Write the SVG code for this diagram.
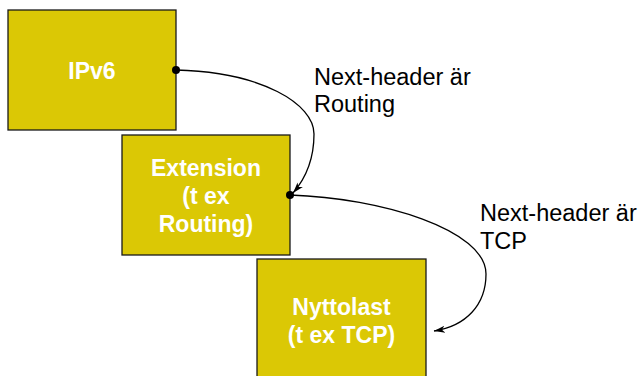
<svg xmlns="http://www.w3.org/2000/svg" width="640" height="376" viewBox="0 0 640 376">
<style>
.box{fill:#DBC805;stroke:#1a1a1a;stroke-width:1.3}
.nt{font-family:"Liberation Sans",Arial,sans-serif;font-weight:bold;font-size:23px;fill:#ffffff;text-anchor:middle}
.lb{font-family:"Liberation Sans",Arial,sans-serif;font-size:23.5px;fill:#000000}
.cn{fill:none;stroke:#000;stroke-width:1.3}
</style>
<defs>
<marker id="ah" markerUnits="userSpaceOnUse" markerWidth="14" markerHeight="10" refX="11" refY="5" orient="auto">
<path d="M0,1.5 L11,5 L0,8.5 L3,5 Z" fill="#000"/>
</marker>
</defs>
<rect width="640" height="376" fill="#ffffff"/>
<g id="ipv6">
<rect class="box" x="8" y="10" width="168" height="120"/>
<text class="nt" x="92" y="78.5">IPv6</text>
</g>
<g id="extension">
<rect class="box" x="122" y="135" width="168" height="120"/>
<text class="nt" x="206" y="176">Extension</text>
<text class="nt" x="206" y="204">(t ex</text>
<text class="nt" x="206" y="232">Routing)</text>
</g>
<g id="nyttolast">
<rect class="box" x="257" y="259" width="169" height="121"/>
<text class="nt" x="341.5" y="315">Nyttolast</text>
<text class="nt" x="341.5" y="343">(t ex TCP)</text>
</g>
<g id="connectors">
<path class="cn" d="M176,70 C262,72 314,104 314,134 C314,160 306,178 293,193" marker-end="url(#ah)"/>
<path class="cn" d="M290,195 C382,198 486,230 486,274 C486,305 466,326 434,331" marker-end="url(#ah)"/>
<circle cx="176" cy="70" r="4" fill="#000"/>
<circle cx="290" cy="195" r="4" fill="#000"/>
</g>
<g id="labels">
<text class="lb" x="314" y="85">Next-header är</text>
<text class="lb" x="314" y="112">Routing</text>
<text class="lb" x="480" y="221">Next-header är</text>
<text class="lb" x="480" y="249">TCP</text>
</g>
</svg>
